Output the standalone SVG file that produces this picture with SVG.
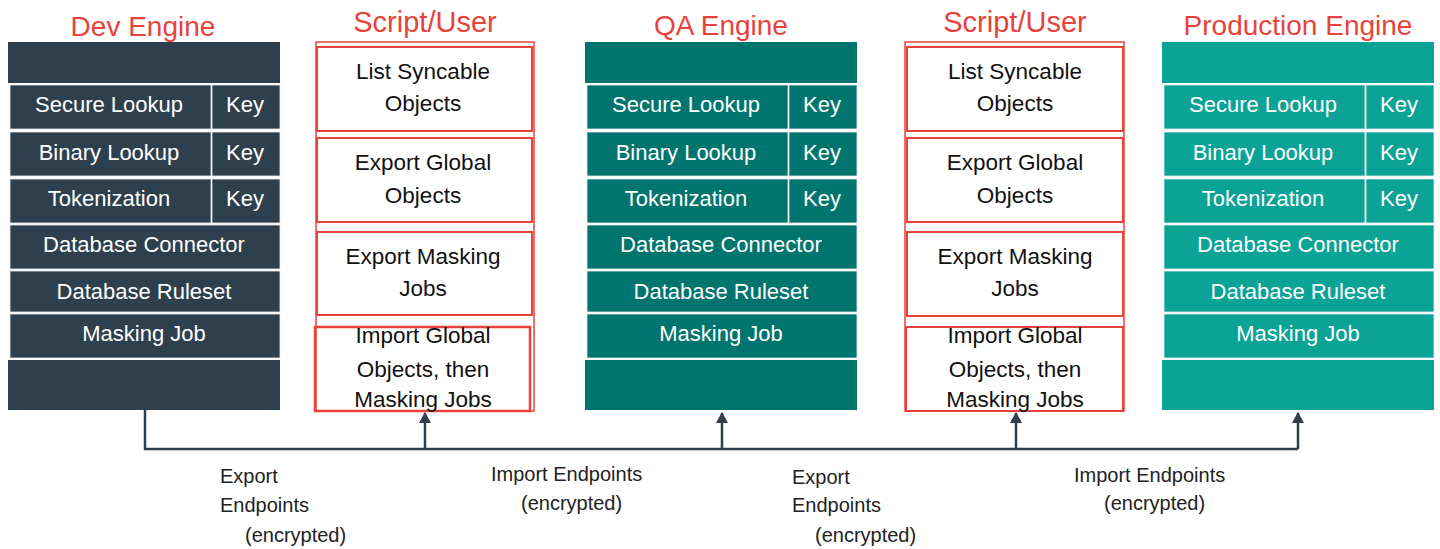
<svg xmlns="http://www.w3.org/2000/svg" width="1440" height="549" viewBox="0 0 1440 549">
<style>
text{font-family:"Liberation Sans",Arial,sans-serif;}
.title{font-size:28px;fill:#e8433a;text-anchor:middle;}
.et{font-size:22px;fill:#ffffff;text-anchor:middle;}
.st{font-size:22.5px;fill:#111111;text-anchor:middle;}
.lb{font-size:20px;fill:#222222;}
.dev{fill:#2e3f4e;}
.qa{fill:#00756d;}
.prod{fill:#0aa396;}
.cell{stroke:#e8ecee;stroke-width:0.8;}
.sbox{fill:none;stroke:#e8433a;stroke-width:2;}
.souter{fill:none;stroke:#e8433a;stroke-width:1.5;}
.conn{fill:none;stroke:#2e3f4e;stroke-width:2.5;}
</style>
<defs>
<marker id="arr" markerUnits="userSpaceOnUse" markerWidth="12" markerHeight="13" refX="10" refY="6.5" orient="auto" viewBox="0 0 12 13">
<path d="M0,0.5 L11,6.5 L0,12.5 Z" fill="#2e3f4e"/>
</marker>
<g id="engine">
<rect x="0" y="42" width="272" height="41"/>
<rect class="cell" x="2" y="85" width="201" height="44"/>
<rect class="cell" x="204" y="85" width="68" height="44"/>
<rect class="cell" x="2" y="132" width="201" height="44"/>
<rect class="cell" x="204" y="132" width="68" height="44"/>
<rect class="cell" x="2" y="179" width="201" height="44"/>
<rect class="cell" x="204" y="179" width="68" height="44"/>
<rect class="cell" x="2" y="225" width="270" height="44"/>
<rect class="cell" x="2" y="271" width="270" height="41"/>
<rect class="cell" x="2" y="314" width="270" height="44"/>
<rect x="0" y="360" width="272" height="50"/>
<text class="et" x="101" y="112">Secure Lookup</text>
<text class="et" x="237" y="112">Key</text>
<text class="et" x="101" y="160">Binary Lookup</text>
<text class="et" x="237" y="160">Key</text>
<text class="et" x="101" y="206">Tokenization</text>
<text class="et" x="237" y="206">Key</text>
<text class="et" x="136" y="252">Database Connector</text>
<text class="et" x="136" y="299">Database Ruleset</text>
<text class="et" x="136" y="341">Masking Job</text>
</g>
</defs>

<g id="dev-engine">
<text class="title" x="143" y="36">Dev Engine</text>
<use href="#engine" class="dev" x="8"/>
</g>

<g id="script-user-1">
<text class="title" x="425" y="32" style="font-size:29px">Script/User</text>
<rect class="souter" x="316" y="42" width="218" height="369"/>
<rect class="sbox" x="317" y="47" width="215" height="84"/>
<rect class="sbox" x="317" y="138" width="215" height="84"/>
<rect class="sbox" x="317" y="232" width="215" height="83"/>
<rect class="sbox" x="315" y="327" width="215" height="84" style="stroke-width:2.5"/>
<text class="st" x="423" y="79">List Syncable</text>
<text class="st" x="423" y="111">Objects</text>
<text class="st" x="423" y="170">Export Global</text>
<text class="st" x="423" y="203">Objects</text>
<text class="st" x="423" y="264">Export Masking</text>
<text class="st" x="423" y="296">Jobs</text>
<text class="st" x="423" y="343">Import Global</text>
<text class="st" x="423" y="377">Objects, then</text>
<text class="st" x="423" y="407">Masking Jobs</text>
</g>

<g id="qa-engine">
<text class="title" x="721" y="35">QA Engine</text>
<use href="#engine" class="qa" x="585"/>
</g>

<g id="script-user-2">
<text class="title" x="1015" y="32" style="font-size:29px">Script/User</text>
<rect class="souter" x="905" y="42" width="219" height="369"/>
<rect class="sbox" x="907" y="47" width="216" height="84"/>
<rect class="sbox" x="907" y="138" width="216" height="84"/>
<rect class="sbox" x="907" y="232" width="216" height="84"/>
<rect class="sbox" x="906" y="327" width="217" height="84"/>
<text class="st" x="1015" y="79">List Syncable</text>
<text class="st" x="1015" y="111">Objects</text>
<text class="st" x="1015" y="170">Export Global</text>
<text class="st" x="1015" y="203">Objects</text>
<text class="st" x="1015" y="264">Export Masking</text>
<text class="st" x="1015" y="296">Jobs</text>
<text class="st" x="1015" y="343">Import Global</text>
<text class="st" x="1015" y="377">Objects, then</text>
<text class="st" x="1015" y="407">Masking Jobs</text>
</g>

<g id="production-engine">
<text class="title" x="1298" y="35">Production Engine</text>
<use href="#engine" class="prod" x="1162"/>
</g>

<g id="connectors">
<path class="conn" d="M145,410 V449 H1298"/>
<line class="conn" x1="425" y1="449" x2="425" y2="413" marker-end="url(#arr)"/>
<line class="conn" x1="722" y1="449" x2="722" y2="413" marker-end="url(#arr)"/>
<line class="conn" x1="1016" y1="449" x2="1016" y2="413" marker-end="url(#arr)"/>
<line class="conn" x1="1298" y1="449" x2="1298" y2="413" marker-end="url(#arr)"/>
</g>

<g id="labels">
<text class="lb" x="220" y="483">Export</text>
<text class="lb" x="220" y="512">Endpoints</text>
<text class="lb" x="245" y="542">(encrypted)</text>
<text class="lb" x="491" y="481">Import Endpoints</text>
<text class="lb" x="521" y="510">(encrypted)</text>
<text class="lb" x="792" y="484">Export</text>
<text class="lb" x="792" y="512">Endpoints</text>
<text class="lb" x="815" y="542">(encrypted)</text>
<text class="lb" x="1074" y="482">Import Endpoints</text>
<text class="lb" x="1104" y="510">(encrypted)</text>
</g>
</svg>
